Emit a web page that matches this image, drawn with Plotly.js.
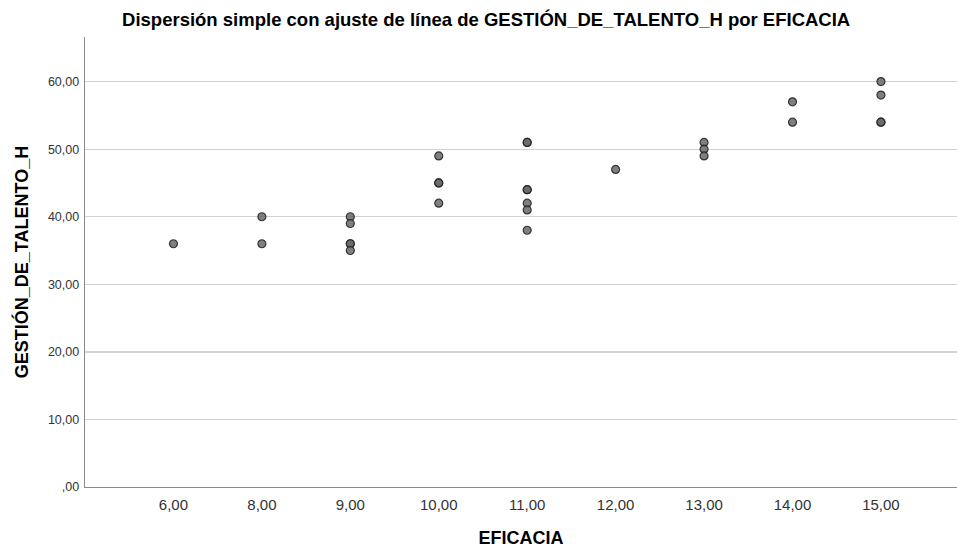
<!DOCTYPE html>
<html>
<head>
<meta charset="utf-8">
<script src="https://cdn.plot.ly/plotly-3.0.1.min.js"></script>
<style>html,body{margin:0;padding:0;background:#fff;}#chart{width:957px;height:548px;}</style>
</head>
<body>
<div id="chart"></div>
<script>
var categories = ['6,00', '8,00', '9,00', '10,00', '11,00', '12,00', '13,00', '14,00', '15,00'];
var eficacia = ['6,00', '8,00', '8,00', '9,00', '9,00', '9,00', '9,00', '9,00', '10,00', '10,00', '10,00', '10,00',
  '11,00', '11,00', '11,00', '11,00', '11,00', '11,00', '11,00', '12,00', '13,00', '13,00', '13,00',
  '14,00', '14,00', '15,00', '15,00', '15,00', '15,00'];
var gestion = [36, 40, 36, 40, 39, 36, 36, 35, 49, 45, 45, 42,
  51, 51, 44, 44, 42, 41, 38, 47, 51, 50, 49,
  57, 54, 60, 58, 54, 54];
var yTickVals = [0, 10, 20, 30, 40, 50, 60];
var yTickText = [',00', '10,00', '20,00', '30,00', '40,00', '50,00', '60,00'];

var trace = {
  x: eficacia,
  y: gestion,
  type: 'scatter',
  mode: 'markers',
  marker: {size: 8, color: 'rgba(105,105,105,0.85)', line: {color: 'rgba(30,30,30,0.85)', width: 1.2}},
  hoverinfo: 'x+y'
};

var layout = {
  width: 957, height: 548,
  margin: {l: 85, r: 0, t: 37, b: 61},
  paper_bgcolor: '#fff', plot_bgcolor: '#fff',
  showlegend: false,
  font: {family: 'Liberation Sans, Arial, sans-serif', color: '#000'},
  title: {text: 'Dispersión simple con ajuste de línea de GESTIÓN_DE_TALENTO_H por EFICACIA',
    font: {size: 18.5, color: '#000', weight: 'bold'}, x: 0.508, xanchor: 'center', xref: 'container', y: 0.965, yanchor: 'middle'},
  xaxis: {
    type: 'category', categoryorder: 'array', categoryarray: categories,
    range: [-1, 8.86],
    showgrid: false, zeroline: false, showline: true, linecolor: '#8a8a8a', linewidth: 1.3,
    ticks: '', tickfont: {size: 15, color: '#333'}, ticklabelstandoff: 4,
    title: {text: 'EFICACIA', font: {size: 18, color: '#000', weight: 'bold'}, standoff: 24}
  },
  yaxis: {
    range: [0, 66.6],
    tickvals: yTickVals, ticktext: yTickText,
    showgrid: true, gridcolor: '#d2d2d2', gridwidth: 1.3,
    zeroline: false, showline: true, linecolor: '#8a8a8a', linewidth: 1.3,
    ticks: '', tickfont: {size: 12.5, color: '#333'}, ticklabelstandoff: 2,
    title: {text: 'GESTIÓN_DE_TALENTO_H', font: {size: 18, color: '#000', weight: 'bold'}, standoff: 14}
  }
};

Plotly.newPlot('chart', [trace], layout, {displayModeBar: false, staticPlot: true});
</script>
</body>
</html>
